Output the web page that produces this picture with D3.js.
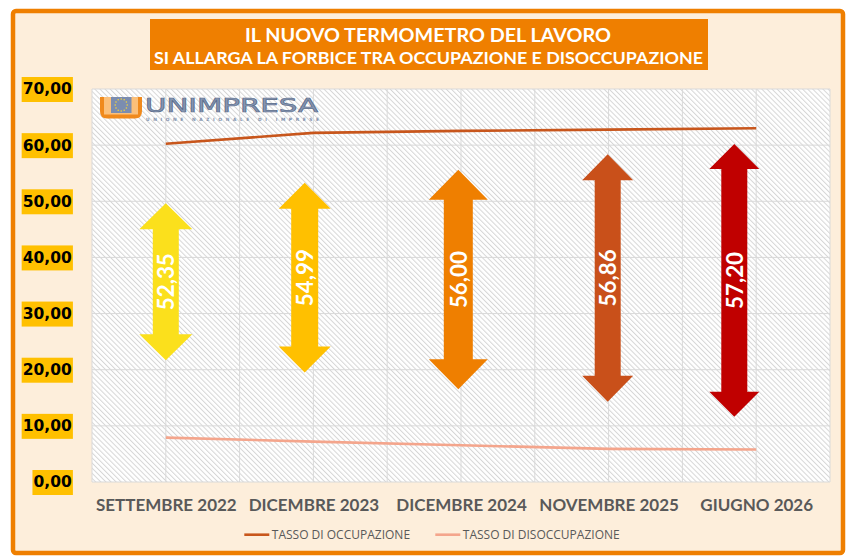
<!DOCTYPE html>
<html>
<head>
<meta charset="utf-8">
<script src="https://cdn.jsdelivr.net/npm/d3@7"></script>
<style>
  html, body { margin: 0; padding: 0; background: #fff; }
  svg { display: block; }
</style>
</head>
<body>
<div id="chart"></div>
<script>
// ---- Data ----
const periods = ["SETTEMBRE 2022", "DICEMBRE 2023", "DICEMBRE 2024", "NOVEMBRE 2025", "GIUGNO 2026"];
const occupazione = [60.25, 62.19, 62.55, 62.76, 63.00];
const disoccupazione = [7.90, 7.20, 6.55, 5.90, 5.80];
const spreads = [52.35, 54.99, 56.00, 56.86, 57.20];
// arrow ends, in axis units
const arrowTop = [49.65, 53.3, 55.6, 58.4, 60.2];
const arrowBottom = [21.7, 19.5, 16.5, 14.3, 11.6];
const yTicks = [0, 10, 20, 30, 40, 50, 60, 70];
const seriesNames = ["TASSO DI OCCUPAZIONE", "TASSO DI DISOCCUPAZIONE"];

// ---- Layout / style ----
const W = 853, H = 559;
const plot = { left: 92, right: 830, top: 89, bottom: 482 };
const ORANGE = "#EF7F00";
const arrowColors = ["#FBE01C", "#FFC000", "#EF7F00", "#C9501A", "#C00000"];
const arrowNudge = [0, -8.7, -2.7, -0.9, -21.9];   // hand placed in the original
const arrowHeadW = [53, 52, 59, 51, 50];
const arrowShaftW = [26, 27, 29, 26, 26];
const arrowHeadH = [26, 26, 30, 26, 25];
const lineColors = ["#C8561C", "#F4A58C"];

const fmt = v => d3.format(".2f")(v).replace(".", ",");

const svg = d3.select("#chart").append("svg")
  .attr("width", W).attr("height", H);

const defs = svg.append("defs");
const hatch = defs.append("pattern")
  .attr("id", "hatch")
  .attr("patternUnits", "userSpaceOnUse")
  .attr("width", 3.6).attr("height", 3.6)
  .attr("patternTransform", "rotate(-45)");
hatch.append("rect").attr("width", 3.6).attr("height", 3.6).attr("fill", "#ffffff");
hatch.append("line")
  .attr("x1", 0.5).attr("y1", 0).attr("x2", 0.5).attr("y2", 3.6)
  .attr("stroke", "#d6d6d6").attr("stroke-width", 1);

// ---- Frame ----
svg.append("rect")
  .attr("x", 13).attr("y", 11).attr("width", 830).attr("height", 542)
  .attr("rx", 3)
  .attr("fill", "#FDEEDB")
  .attr("stroke", ORANGE).attr("stroke-width", 4.5);

// ---- Title ----
svg.append("rect")
  .attr("x", 150).attr("y", 19).attr("width", 558).attr("height", 51)
  .attr("fill", ORANGE);

const title = svg.append("g")
  .attr("font-family", "Lato, 'Open Sans', sans-serif")
  .attr("font-weight", 700)
  .attr("fill", "#fff")
  .attr("text-anchor", "middle");
title.append("text")
  .attr("x", 428).attr("y", 42.3)
  .attr("font-size", 19.5)
  .attr("textLength", 366).attr("lengthAdjust", "spacingAndGlyphs")
  .text("IL NUOVO TERMOMETRO DEL LAVORO");
title.append("text")
  .attr("x", 428.5).attr("y", 64)
  .attr("font-size", 17)
  .attr("textLength", 549).attr("lengthAdjust", "spacingAndGlyphs")
  .text("SI ALLARGA LA FORBICE TRA OCCUPAZIONE E DISOCCUPAZIONE");

// ---- Scales ----
const x = d3.scalePoint()
  .domain(periods)
  .range([plot.left, plot.right])
  .padding(0.5);

const y = d3.scaleLinear()
  .domain([0, 70])
  .range([plot.bottom, plot.top]);

// ---- Plot area ----
svg.append("rect")
  .attr("x", plot.left).attr("y", plot.top)
  .attr("width", plot.right - plot.left).attr("height", plot.bottom - plot.top)
  .attr("fill", "url(#hatch)");

const grid = svg.append("g").attr("stroke", "#d9d9d9").attr("stroke-width", 1);
const half = x.step() / 2;
grid.selectAll("line.v")
  .data(d3.range(0, periods.length * 2 + 1))
  .join("line")
  .attr("class", "v")
  .attr("x1", i => plot.left + i * half).attr("x2", i => plot.left + i * half)
  .attr("y1", plot.top).attr("y2", plot.bottom);
grid.selectAll("line.h")
  .data(yTicks)
  .join("line")
  .attr("class", "h")
  .attr("x1", plot.left).attr("x2", plot.right)
  .attr("y1", d => y(d)).attr("y2", d => y(d));

// ---- Logo ----
const logo = svg.append("g");
logo.append("path")
  .attr("d", "M100,97 H142 V111 Q142,118.5 135,118.5 H107 Q100,118.5 100,111 Z")
  .attr("fill", "#F08A1C");
logo.append("rect")
  .attr("x", 104).attr("y", 97).attr("width", 34).attr("height", 17.5)
  .attr("fill", "#FBC07A");
logo.append("rect")
  .attr("x", 111).attr("y", 97).attr("width", 20.5).attr("height", 16)
  .attr("fill", "#7B8DB0");
logo.selectAll("circle.star")
  .data(d3.range(12))
  .join("circle")
  .attr("class", "star")
  .attr("cx", i => 121.2 + 6 * Math.cos(i * Math.PI / 6))
  .attr("cy", i => 105 + 6 * Math.sin(i * Math.PI / 6))
  .attr("r", 0.8)
  .attr("fill", "#F3D23A");
logo.append("text")
  .attr("x", 145).attr("y", 111.5)
  .attr("font-family", "'DejaVu Sans', sans-serif")
  .attr("font-size", 20)
  .attr("fill", "#8797B2").attr("stroke", "#5E6F8E").attr("stroke-width", 0.7)
  .attr("textLength", 173).attr("lengthAdjust", "spacingAndGlyphs")
  .text("UNIMPRESA");
logo.append("text")
  .attr("x", 146).attr("y", 120.5)
  .attr("font-family", "'DejaVu Sans', sans-serif")
  .attr("font-weight", 700)
  .attr("font-size", 4.4)
  .attr("fill", "#7F90AD")
  .attr("textLength", 173).attr("lengthAdjust", "spacing")
  .text("UNIONE NAZIONALE DI IMPRESE");

// ---- Lines ----
const series = [occupazione, disoccupazione];
const line = d3.line()
  .x((d, i) => x(periods[i]))
  .y(d => y(d));

svg.append("g")
  .selectAll("path")
  .data(series)
  .join("path")
  .attr("d", d => line(d))
  .attr("fill", "none")
  .attr("stroke", (d, i) => lineColors[i])
  .attr("stroke-width", 2.6);

// ---- Double arrows ----
function arrowPath(cx, top, bottom, hw, sw, hh) {
  const a = hw / 2, s = sw / 2;
  return [
    `M${cx},${top}`,
    `L${cx + a},${top + hh}`,
    `L${cx + s},${top + hh}`,
    `L${cx + s},${bottom - hh}`,
    `L${cx + a},${bottom - hh}`,
    `L${cx},${bottom}`,
    `L${cx - a},${bottom - hh}`,
    `L${cx - s},${bottom - hh}`,
    `L${cx - s},${top + hh}`,
    `L${cx - a},${top + hh}`,
    "Z"
  ].join(" ");
}

const arrows = svg.append("g")
  .selectAll("g.arrow")
  .data(periods)
  .join("g")
  .attr("class", "arrow");

arrows.append("path")
  .attr("d", (p, i) => arrowPath(x(p) + arrowNudge[i], y(arrowTop[i]), y(arrowBottom[i]),
    arrowHeadW[i], arrowShaftW[i], arrowHeadH[i]))
  .attr("fill", (p, i) => arrowColors[i]);

arrows.append("text")
  .attr("transform", (p, i) => {
    const cx = x(p) + arrowNudge[i];
    const cy = (y(arrowTop[i]) + y(arrowBottom[i])) / 2;
    return `translate(${cx},${cy}) rotate(-90)`;
  })
  .attr("text-anchor", "middle")
  .attr("dy", "0.36em")
  .attr("font-family", "Lato, 'Open Sans', sans-serif")
  .attr("font-weight", 700)
  .attr("font-size", 23)
  .attr("fill", "#fff")
  .attr("textLength", 57).attr("lengthAdjust", "spacingAndGlyphs")
  .text((p, i) => fmt(spreads[i]));

// ---- Axes ----
const xAxis = svg.append("g")
  .attr("transform", `translate(0,${plot.bottom})`)
  .call(d3.axisBottom(x).tickSize(0).tickPadding(16.6))
  .call(g => g.select(".domain").remove());
xAxis.selectAll("text")
  .attr("font-family", "Lato, 'Open Sans', sans-serif")
  .attr("font-weight", 700)
  .attr("font-size", 17)
  .attr("fill", "#595959");

const yAxis = svg.append("g")
  .attr("transform", `translate(${plot.left},0)`)
  .call(d3.axisLeft(y).tickValues(yTicks).tickSize(0).tickPadding(20.3).tickFormat(fmt))
  .call(g => g.select(".domain").remove());
yAxis.selectAll("text")
  .attr("font-family", "'DejaVu Sans', Verdana, sans-serif")
  .attr("font-weight", 700)
  .attr("font-size", 15.5)
  .attr("fill", "#000");
yAxis.selectAll(".tick").each(function () {
  const t = d3.select(this);
  const bb = t.select("text").node().getBBox();
  t.insert("rect", "text")
    .attr("x", bb.x - 1).attr("y", -12.5)
    .attr("width", bb.width + 2).attr("height", 25)
    .attr("fill", "#FFC000");
});

// ---- Legend ----
const legendX = [244.3, 435.3];
const legend = svg.append("g")
  .selectAll("g")
  .data(seriesNames)
  .join("g")
  .attr("transform", (d, i) => `translate(${legendX[i]},534.7)`);
legend.append("line")
  .attr("x1", 0).attr("x2", 25)
  .attr("stroke", (d, i) => lineColors[i])
  .attr("stroke-width", 2.6);
legend.append("text")
  .attr("x", 27.5).attr("dy", "0.36em")
  .attr("font-family", "'Open Sans', Lato, sans-serif")
  .attr("font-size", 12)
  .attr("fill", "#595959")
  .text(d => d);
</script>
</body>
</html>
